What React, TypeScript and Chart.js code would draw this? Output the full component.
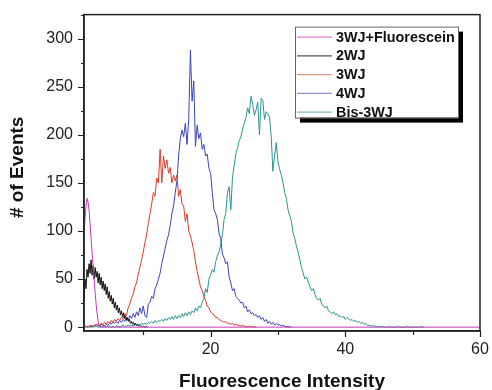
import React, { useEffect, useRef } from "react";
import { Chart, registerables } from "chart.js";

Chart.register(...registerables);

// ---- axes ----
const X_MIN = 1.2;
const X_MAX = 60;
const Y_MIN = -4;
const Y_MAX = 325;
const X_STEP = 10;
const Y_STEP = 25;
const X_LABEL_EVERY = 20;
const Y_LABEL_EVERY = 50;
const X_TITLE = "Fluorescence Intensity";
const Y_TITLE = "# of Events";

const seriesLabels = ["3WJ+Fluorescein", "2WJ", "3WJ", "4WJ", "Bis-3WJ"];

// ---- histogram data (bin start, bin width, counts) ----
const fluorStart = 1.2;
const fluorBin = 0.15;
const fluorCounts = [96, 112, 126, 134, 130, 122, 108, 92, 78, 64, 50, 36, 24, 14, 6, 2, 0];
const fluorTailX = [4, 10, 20, 30, 40, 50, 60];
const fluorTailY = [0, 0, 0, 0, 0, 0, 0];

const wj2Start = 1.2;
const wj2Bin = 0.15;
const wj2Counts = [
  28, 50, 40, 60, 52, 66, 56, 70, 54, 64, 50, 62, 52, 58, 46, 56, 44, 52, 40, 48,
  38, 45, 34, 42, 30, 37, 27, 33, 24, 30, 20, 26, 18, 23, 15, 20, 13, 17, 11, 15,
  9, 12, 7, 10, 6, 8, 4, 6, 3, 5, 2, 4, 2, 3, 1, 2, 1, 1, 0, 1, 0, 0, 1, 0,
];

const wj3Start = 1.25;
const wj3Bin = 0.25;
const wj3Counts = [
  0, 1, 0, 1, 2, 1, 2, 3,
  3, 1, 4, 2, 5, 3, 6, 4, 7, 5, 8, 6, 9, 7, 10, 9, 14, 12, 20, 24, 30, 34, 42, 46,
  55, 62, 70, 78, 88, 96, 108, 118, 128, 140, 136, 155, 150, 185, 150, 178, 165, 174,
  160, 166, 150, 158, 152, 158, 136, 143, 128, 126, 110, 118, 100, 95, 88, 80, 68, 58,
  50, 42, 38, 32, 28, 22, 20, 16, 14, 13, 10, 10, 8, 7, 6, 5, 6, 4, 4, 3, 4, 2, 3, 2,
  2, 1, 2, 1, 1, 0, 1, 0, 1, 0, 0,
];

const wj4Start = 1.25;
const wj4Bin = 0.25;
const wj4Counts = [
  0, 1, 0, 1, 1, 0, 2, 1,
  2, 1, 3, 2, 1, 3, 2, 4, 3, 5, 4, 6, 4, 7, 5, 8, 6, 10, 7, 12, 9, 14, 10, 16, 12,
  20, 14, 22, 12, 10, 24, 26, 32, 30, 40, 44, 50, 56, 66, 74, 82, 90, 96, 106, 118,
  126, 140, 152, 178, 196, 205, 198, 212, 190, 216, 288, 235, 256, 188, 210, 196, 202,
  185, 190, 178, 180, 165, 160, 140, 122, 118, 112, 98, 92, 76, 72, 66, 68, 52, 46, 38,
  40, 32, 30, 28, 25, 26, 20, 22, 16, 18, 14, 15, 12, 13, 10, 12, 8, 10, 6, 8, 4, 6,
  3, 5, 2, 4, 2, 3, 1, 2, 1, 0, 1, 0, 0,
];

const bisStart = 1.25;
const bisBin = 0.25;
const bisCounts = [
  0, 0, 1, 0, 0, 1, 0, 1, 0, 0, 1, 0, 1, 0, 1, 1, 0, 1, 0, 1, 1, 0, 1, 2, 1, 1, 2,
  1, 2, 1, 3, 2, 3, 2, 4, 3, 4, 3, 5, 4, 6, 4, 7, 5, 7, 6, 8, 6, 9, 7, 10, 8, 11, 8,
  12, 9, 12, 10, 14, 11, 15, 12, 16, 13, 17, 15, 20, 17, 22, 20, 26, 30, 40, 36, 50,
  54, 60, 57, 68, 74, 78, 86, 96, 112, 118, 140, 146, 122, 156, 168, 180, 186, 194,
  198, 206, 212, 218, 228, 222, 240, 232, 220, 226, 234, 200, 238, 236, 216, 224, 222,
  218, 198, 162, 178, 192, 172, 164, 158, 150, 140, 134, 122, 116, 110, 98, 92, 84,
  78, 70, 62, 56, 50, 52, 47, 42, 38, 40, 34, 30, 28, 30, 24, 22, 20, 22, 17, 16, 14,
  16, 13, 14, 11, 12, 10, 11, 8, 10, 9, 7, 8, 6, 7, 5, 6, 4, 5, 3, 4, 2, 2, 1, 2, 1,
  1, 0, 1, 0, 1, 0, 0, 0, 1, 0, 0, 0, 0, 1, 0, 0, 0, 0, 0, 1, 0, 0, 0, 0, 0, 0, 0, 1,
  0, 0,
];

// ---- styles ----
const FONT = "'Liberation Sans', Arial, Helvetica, sans-serif";
const AXIS_COLOR = "#222";
const lineColors = ["#c43ab4", "#111111", "#d83c2c", "#3c44b8", "#2c9490"];
const legendColors = ["#e27ad2", "#555555", "#e8937f", "#8a8cd6", "#7dbcbc"];

function binned(start: number, width: number, counts: number[]) {
  return counts.map((c, i) => ({ x: start + i * width, y: c }));
}

function pairs(xs: number[], ys: number[]) {
  return xs.map((x, i) => ({ x, y: ys[i] }));
}

const framePlugin = {
  id: "frameAndLegend",
  afterDraw(chart: any) {
    const { ctx, chartArea, scales } = chart;
    const { left, right, top, bottom } = chartArea;
    ctx.save();

    // tick marks (major / minor) drawn from the scales' own ticks
    ctx.strokeStyle = AXIS_COLOR;
    ctx.lineWidth = 1.2;
    ctx.beginPath();
    scales.y.ticks.forEach((t: any) => {
      const py = Math.round(scales.y.getPixelForValue(t.value)) + 0.5;
      const len = t.value % Y_LABEL_EVERY === 0 ? 6 : 3;
      ctx.moveTo(left - len, py);
      ctx.lineTo(left, py);
    });
    scales.x.ticks.forEach((t: any) => {
      const px = Math.round(scales.x.getPixelForValue(t.value)) + 0.5;
      const len = t.value % X_LABEL_EVERY === 0 ? 6 : 4;
      ctx.moveTo(px, bottom);
      ctx.lineTo(px, bottom + len);
    });
    ctx.stroke();

    // frame
    ctx.strokeStyle = AXIS_COLOR;
    ctx.lineWidth = 1.5;
    ctx.strokeRect(left, top, right - left, bottom - top);

    // y title
    ctx.save();
    ctx.translate(17.5, top + (bottom - top) / 2 - 5.5);
    ctx.rotate(-Math.PI / 2);
    ctx.font = `bold 19px ${FONT}`;
    ctx.fillStyle = "#111";
    ctx.textAlign = "center";
    ctx.textBaseline = "middle";
    ctx.fillText(Y_TITLE, 0, 0);
    ctx.restore();

    // legend box
    const bw = 163;
    const bh = 91;
    const bx = right - 185;
    const by = top + 12;
    ctx.fillStyle = "#000";
    ctx.fillRect(bx + 5, by + 5, bw, bh);
    ctx.fillStyle = "#fff";
    ctx.fillRect(bx, by, bw, bh);
    ctx.strokeStyle = "#666";
    ctx.lineWidth = 1;
    ctx.strokeRect(bx + 0.5, by + 0.5, bw, bh);

    ctx.font = `bold 14.4px ${FONT}`;
    ctx.textBaseline = "middle";
    ctx.textAlign = "left";
    seriesLabels.forEach((lab, i) => {
      const y = by + 10.5 + i * 18.75;
      ctx.strokeStyle = legendColors[i];
      ctx.lineWidth = 1.2;
      ctx.beginPath();
      ctx.moveTo(bx + 2, y);
      ctx.lineTo(bx + 37, y);
      ctx.stroke();
      ctx.fillStyle = "#111";
      ctx.fillText(lab, bx + 41, y + 0.5);
    });
    ctx.restore();
  },
};

export default function App() {
  const ref = useRef<HTMLCanvasElement | null>(null);

  useEffect(() => {
    if (!ref.current) return;
    const seriesData = [
      binned(fluorStart, fluorBin, fluorCounts).concat(pairs(fluorTailX, fluorTailY)),
      binned(wj2Start, wj2Bin, wj2Counts),
      binned(wj3Start, wj3Bin, wj3Counts),
      binned(wj4Start, wj4Bin, wj4Counts),
      binned(bisStart, bisBin, bisCounts),
    ];
    const chart = new Chart(ref.current, {
      type: "line",
      data: {
        datasets: seriesLabels.map((label, i) => ({
          label,
          data: seriesData[i],
          borderColor: lineColors[i],
          backgroundColor: lineColors[i],
          borderWidth: 1,
          pointRadius: 0,
          tension: 0,
          fill: false,
        })),
      },
      options: {
        animation: false,
        responsive: false,
        maintainAspectRatio: false,
        layout: { padding: { top: 11, right: 12, left: 0, bottom: 0 } },
        plugins: { legend: { display: false }, tooltip: { enabled: false } },
        scales: {
          x: {
            type: "linear",
            min: X_MIN,
            max: X_MAX,
            ticks: {
              stepSize: X_STEP,
              includeBounds: false,
              autoSkip: false,
              maxRotation: 0,
              padding: 3,
              color: "#222",
              font: { family: FONT, size: 16 },
              callback: (v: any) => (Number(v) % X_LABEL_EVERY === 0 ? String(v) : ""),
            },
            grid: { drawOnChartArea: false, tickLength: 6, color: "rgba(0,0,0,0)" },
            border: { color: AXIS_COLOR, width: 1.5 },
            title: {
              display: true,
              text: X_TITLE,
              color: "#111",
              font: { family: FONT, size: 19, weight: "bold", lineHeight: 0.9 },
              padding: { top: 0, bottom: 0 },
            },
            afterFit: (s: any) => {
              s.height = 59;
            },
          },
          y: {
            type: "linear",
            min: Y_MIN,
            max: Y_MAX,
            ticks: {
              stepSize: Y_STEP,
              includeBounds: false,
              autoSkip: false,
              padding: 5,
              color: "#222",
              font: { family: FONT, size: 16 },
              callback: (v: any) => (Number(v) % Y_LABEL_EVERY === 0 ? String(v) : ""),
            },
            grid: { drawOnChartArea: false, tickLength: 6, color: "rgba(0,0,0,0)" },
            border: { color: AXIS_COLOR, width: 1.5 },
            afterFit: (s: any) => {
              s.width = 84;
            },
          },
        },
      },
      plugins: [framePlugin],
    });
    return () => chart.destroy();
  }, []);

  return (
    <div style={{ position: "fixed", left: 0, top: 0, width: 492, height: 390, background: "#fff" }}>
      <canvas ref={ref} width={492} height={390} style={{ display: "block", width: 492, height: 390 }} />
    </div>
  );
}
